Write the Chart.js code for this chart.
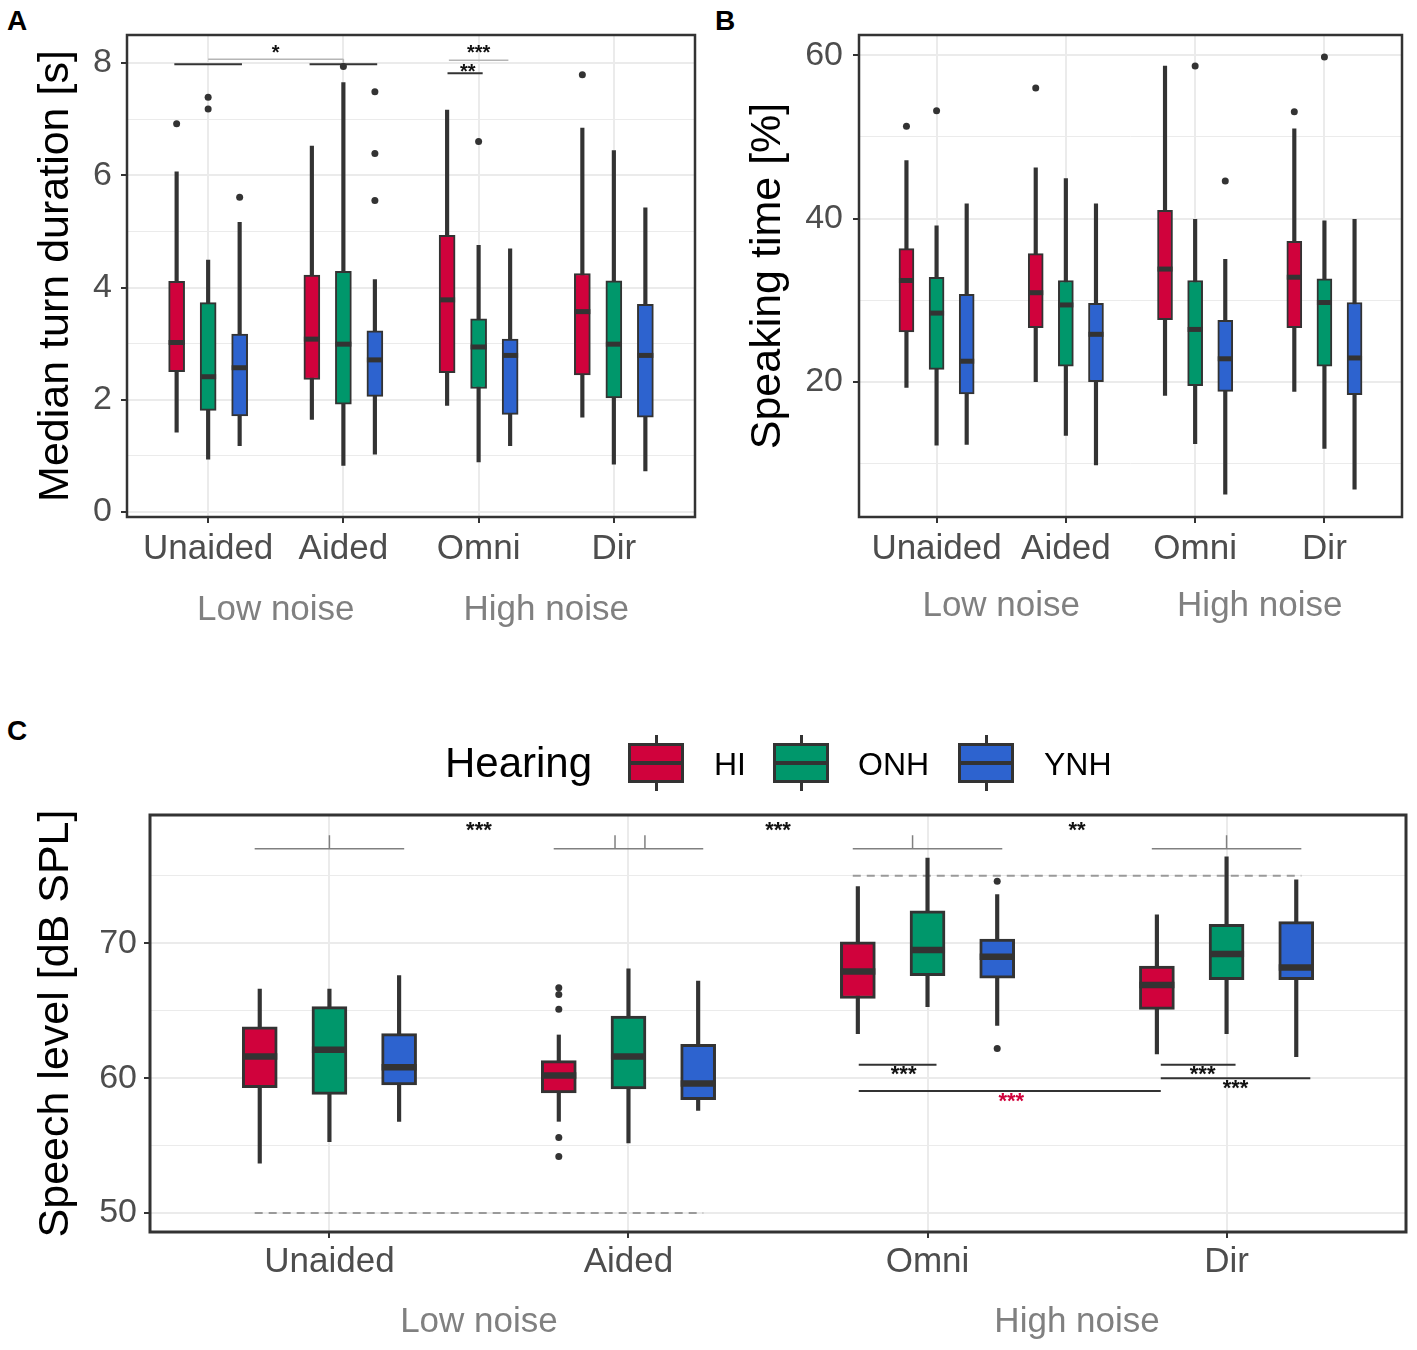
<!DOCTYPE html>
<html>
<head>
<meta charset="utf-8">
<title>Turn duration, speaking time and speech level by hearing group</title>
<script src="https://cdn.jsdelivr.net/npm/chart.js"></script>
<style>
    body {
        margin: 0;
        background: #fff;
        font-family: "Liberation Sans", Arial, sans-serif;
    }

    .figure {
        position: relative;
        width: 1417px;
        height: 1350px;
        overflow: hidden;
    }

    .figure canvas {
        position: absolute;
    }

    .tag {
        position: absolute;
        font-weight: bold;
        font-size: 28px;
        line-height: 1;
        color: #000;
    }

    .legend-text {
        position: absolute;
        line-height: 1;
        color: #000;
        white-space: nowrap;
    }

    .key {
        position: absolute;
        top: 743px;
        width: 56px;
        height: 40px;
        box-sizing: border-box;
        border: 3px solid #333;
    }

    .key i {
        position: absolute;
        background: #333;
    }

    .key .mid {
        left: 0;
        right: 0;
        top: 50%;
        height: 4px;
        margin-top: -2px;
    }

    .key .wt,
    .key .wb {
        left: 50%;
        width: 3px;
        margin-left: -1.5px;
        height: 8px;
    }

    .key .wt { top: -11px; }
    .key .wb { bottom: -11px; }
</style>
</head>
<body>
<div class="figure">
    <div class="tag" style="left:7px;top:7px">A</div>
    <div class="tag" style="left:715px;top:7px">B</div>
    <div class="tag" style="left:7px;top:717px">C</div>

    <canvas id="turn-chart" width="712" height="650" style="left:0;top:0"></canvas>
    <canvas id="speak-chart" width="705" height="650" style="left:712px;top:0"></canvas>
    <canvas id="level-chart" width="1417" height="650" style="left:0;top:700px"></canvas>

    <div class="legend-text" style="left:445px;top:742px;font-size:42px">Hearing</div>
    <div class="key" style="left:628px;background:#D0023C"><i class="mid"></i><i class="wt"></i><i class="wb"></i></div>
    <div class="legend-text" style="left:714px;top:748px;font-size:32px">HI</div>
    <div class="key" style="left:773px;background:#00976B"><i class="mid"></i><i class="wt"></i><i class="wb"></i></div>
    <div class="legend-text" style="left:858px;top:748px;font-size:32px">ONH</div>
    <div class="key" style="left:958px;background:#2D63CF"><i class="mid"></i><i class="wt"></i><i class="wb"></i></div>
    <div class="legend-text" style="left:1044px;top:748px;font-size:32px">YNH</div>
</div>

<script>
    const FONT = '"Liberation Sans", Arial, sans-serif';

    const conditions = ['Unaided', 'Aided', 'Omni', 'Dir'];
    const hearing = ['HI', 'ONH', 'YNH'];
    const hearingColors = ['#D0023C', '#00976B', '#2D63CF'];
    const noiseLabels = ['Low noise', 'High noise'];
    const noiseAt = [1.5, 3.5];

    // rows: HI, ONH, YNH; columns: Unaided, Aided, Omni, Dir
    // A - median turn duration [s]
    const turnMax = [[6.06, 6.52, 7.16, 6.84], [4.49, 7.65, 4.75, 6.44], [5.16, 4.14, 4.69, 5.42]];
    const turnQ3 = [[4.11, 4.22, 4.93, 4.25], [3.73, 4.29, 3.44, 4.12], [3.17, 3.23, 3.08, 3.70]];
    const turnMed = [[3.02, 3.08, 3.78, 3.57], [2.41, 2.99, 2.94, 2.99], [2.57, 2.71, 2.79, 2.79]];
    const turnQ1 = [[2.50, 2.36, 2.48, 2.44], [1.81, 1.92, 2.20, 2.03], [1.71, 2.06, 1.74, 1.69]];
    const turnMin = [[1.42, 1.65, 1.90, 1.69], [0.94, 0.83, 0.89, 0.85], [1.18, 1.03, 1.18, 0.73]];
    // [condition index, group index, value]
    const turnOut = [[0, 0, 6.92], [0, 1, 7.39], [0, 1, 7.18], [0, 2, 5.61], [1, 1, 7.94],
        [1, 2, 7.49], [1, 2, 6.39], [1, 2, 5.55], [2, 1, 6.60], [3, 0, 7.79]];

    // B - speaking time [%]
    const speakMax = [[47.1, 46.2, 58.7, 51.0], [39.1, 44.9, 39.9, 39.7], [41.8, 41.8, 35.0, 39.9]];
    const speakQ3 = [[36.3, 35.7, 41.0, 37.2], [32.8, 32.4, 32.4, 32.6], [30.7, 29.6, 27.5, 29.7]];
    const speakMed = [[32.4, 30.9, 33.8, 32.8], [28.4, 29.4, 26.4, 29.7], [22.5, 25.8, 22.8, 22.9]];
    const speakQ1 = [[26.1, 26.6, 27.6, 26.6], [21.5, 21.9, 19.5, 21.9], [18.5, 20.0, 18.8, 18.4]];
    const speakMin = [[19.3, 20.0, 18.3, 18.8], [12.2, 13.4, 12.4, 11.8], [12.3, 9.8, 6.2, 6.8]];
    const speakOut = [[0, 0, 51.3], [0, 1, 53.2], [1, 0, 56.0], [2, 1, 58.7], [2, 2, 44.6], [3, 0, 53.1], [3, 1, 59.8]];

    // C - speech level [dB SPL]
    const levelMax = [[66.6, 63.2, 74.2, 72.1], [66.6, 68.1, 76.3, 76.4], [67.6, 67.2, 73.6, 74.7]];
    const levelQ3 = [[63.8, 61.3, 70.1, 68.3], [65.3, 64.6, 72.4, 71.4], [63.3, 62.5, 70.3, 71.6]];
    const levelMed = [[61.6, 60.2, 67.9, 66.9], [62.1, 61.6, 69.5, 69.2], [60.8, 59.6, 69.0, 68.2]];
    const levelQ1 = [[59.3, 58.9, 65.9, 65.1], [58.8, 59.2, 67.6, 67.3], [59.5, 58.4, 67.4, 67.3]];
    const levelMin = [[53.7, 56.8, 63.3, 61.8], [55.3, 55.2, 65.3, 63.3], [56.8, 57.6, 63.9, 61.6]];
    const levelOut = [[1, 0, 66.7], [1, 0, 66.2], [1, 0, 65.1], [1, 0, 55.6], [1, 0, 54.2], [2, 2, 74.6], [2, 2, 62.2]];

    // significance marks, in axis units: [x from, x to, y] / [x, y from, y to] / [text, x, y]
    const turnBlack = [[0.75, 1.25, 7.98], [1.75, 2.25, 7.98], [2.77, 3.03, 7.82]];
    const turnGray = [[1.0, 2.0, 8.07], [2.78, 3.22, 8.05]];
    const turnTicks = [[2.0, 7.98, 8.07]];
    const turnStars = [['*', 1.5, 8.28], ['***', 3.0, 8.28], ['**', 2.92, 7.94]];

    const levelGray = [[0.75, 1.25, 77], [1.75, 2.25, 77], [2.75, 3.25, 77], [3.75, 4.25, 77]];
    const levelTicks = [[1.0, 77, 78], [1.955, 77, 78], [2.055, 77, 78], [2.95, 77, 78], [4.0, 77, 78]];
    const levelDashed = [[0.75, 2.25, 50], [2.75, 4.25, 75]];
    const levelBlack = [[2.77, 3.03, 61.0], [2.77, 3.78, 59.05], [3.78, 4.03, 61.0], [3.78, 4.28, 60.0]];
    const levelStars = [['***', 1.5, 78.8], ['***', 2.5, 78.8], ['**', 3.5, 78.8],
        ['***', 2.92, 60.7], ['***', 3.92, 60.7], ['***', 4.03, 59.7]];
    const levelRedStars = [['***', 3.28, 58.75]];

    const dodge = [-0.233, 0, 0.233];

    Chart.defaults.font.family = FONT;
    Chart.defaults.animation = false;

    function notesPlugin(n) {
        return {
            id: 'notes',
            beforeDatasetsDraw(chart) {
                const { ctx, scales: { x, y } } = chart;
                ctx.save();
                ctx.lineCap = 'butt';
                ctx.strokeStyle = '#9a9a9a';
                ctx.lineWidth = 2;
                ctx.setLineDash([8, 6]);
                (n.dashed || []).forEach(([a, b, v]) => {
                    ctx.beginPath();
                    ctx.moveTo(x.getPixelForValue(a), y.getPixelForValue(v));
                    ctx.lineTo(x.getPixelForValue(b), y.getPixelForValue(v));
                    ctx.stroke();
                });
                ctx.setLineDash([]);
                ctx.strokeStyle = n.grayColor;
                ctx.lineWidth = n.grayWidth;
                (n.gray || []).forEach(([a, b, v]) => {
                    ctx.beginPath();
                    ctx.moveTo(x.getPixelForValue(a), y.getPixelForValue(v));
                    ctx.lineTo(x.getPixelForValue(b), y.getPixelForValue(v));
                    ctx.stroke();
                });
                (n.ticks || []).forEach(([a, v1, v2]) => {
                    ctx.beginPath();
                    ctx.moveTo(x.getPixelForValue(a), y.getPixelForValue(v1));
                    ctx.lineTo(x.getPixelForValue(a), y.getPixelForValue(v2));
                    ctx.stroke();
                });
                ctx.strokeStyle = '#333';
                ctx.lineWidth = 2;
                (n.black || []).forEach(([a, b, v]) => {
                    ctx.beginPath();
                    ctx.moveTo(x.getPixelForValue(a), y.getPixelForValue(v));
                    ctx.lineTo(x.getPixelForValue(b), y.getPixelForValue(v));
                    ctx.stroke();
                });
                ctx.restore();
            },
            afterDatasetsDraw(chart) {
                const { ctx, chartArea: area, scales: { x, y } } = chart;
                ctx.save();
                ctx.strokeStyle = '#333';
                ctx.lineWidth = n.frame;
                ctx.strokeRect(area.left, area.top, area.right - area.left, area.bottom - area.top);

                const size = n.starSize;
                ctx.font = 'bold ' + size + 'px ' + FONT;
                ctx.textAlign = 'center';
                ctx.textBaseline = 'alphabetic';
                const stars = (list, color) => list.forEach(([t, a, v]) => {
                    ctx.fillStyle = color;
                    ctx.fillText(t, x.getPixelForValue(a), y.getPixelForValue(v) + size * 0.57);
                });
                stars(n.stars || [], '#111');
                stars(n.redStars || [], hearingColors[0]);

                ctx.font = '35px ' + FONT;
                ctx.fillStyle = '#808080';
                ctx.textBaseline = 'middle';
                noiseLabels.forEach((t, i) => ctx.fillText(t, x.getPixelForValue(noiseAt[i]), n.noiseY));
                ctx.restore();
            }
        };
    }

    function boxChart(id, spec) {
        const datasets = [];
        hearing.forEach((g, gi) => {
            const xs = conditions.map((c, ci) => ci + 1 + dodge[gi]);
            datasets.push({
                type: 'bar', label: g + ' whiskers', order: 3, grouped: false,
                data: xs.map((x, ci) => ({ x: x, y: [spec.min[gi][ci], spec.max[gi][ci]] })),
                backgroundColor: '#333', borderWidth: 0,
                barThickness: spec.whisker, maxBarThickness: spec.whisker,
            });
            datasets.push({
                type: 'bar', label: g, order: 2, grouped: false,
                data: xs.map((x, ci) => ({ x: x, y: [spec.q1[gi][ci], spec.q3[gi][ci]] })),
                backgroundColor: hearingColors[gi], borderColor: '#333',
                borderWidth: spec.border, borderSkipped: false,
                barThickness: spec.box, maxBarThickness: spec.box,
            });
            datasets.push({
                type: 'scatter', label: g + ' median', order: 1,
                data: xs.map((x, ci) => ({ x: x, y: spec.med[gi][ci] })),
                pointStyle: 'line', pointRadius: spec.box / 2, pointHoverRadius: spec.box / 2,
                pointBorderColor: '#333', pointBorderWidth: spec.median,
            });
        });
        datasets.push({
            type: 'scatter', label: 'outliers', order: 0,
            data: spec.out.map(([ci, gi, v]) => ({ x: ci + 1 + dodge[gi], y: v })),
            pointRadius: spec.dot, pointHoverRadius: spec.dot,
            pointBackgroundColor: '#333', pointBorderWidth: 0,
        });

        const isMajor = (ctx) => ctx.tick && spec.yLabels.includes(ctx.tick.value);

        return new Chart(document.getElementById(id), {
            type: 'bar',
            data: { datasets: datasets },
            options: {
                responsive: false,
                animation: false,
                layout: { padding: spec.padding, autoPadding: false },
                plugins: {
                    legend: { display: false },
                    tooltip: { enabled: false },
                },
                scales: {
                    x: {
                        type: 'linear',
                        min: 0.4,
                        max: 4.6,
                        offset: false,
                        afterBuildTicks: (s) => { s.ticks = conditions.map((c, i) => ({ value: i + 1 })); },
                        afterFit: (s) => { s.height = spec.xHeight; },
                        ticks: {
                            callback: (v) => conditions[v - 1],
                            autoSkip: false,
                            maxRotation: 0,
                            minRotation: 0,
                            color: '#4d4d4d',
                            font: { size: 35 },
                            padding: spec.xPad,
                        },
                        grid: {
                            offset: false,
                            color: '#ebebeb',
                            lineWidth: 2,
                            tickColor: '#333',
                            tickLength: 6,
                            tickWidth: 2,
                        },
                        border: { display: false },
                    },
                    y: {
                        min: spec.yMin,
                        max: spec.yMax,
                        afterBuildTicks: (s) => { s.ticks = spec.yTicks.map((v) => ({ value: v })); },
                        afterFit: (s) => { s.width = spec.yWidth; },
                        ticks: {
                            callback: (v) => (spec.yLabels.includes(v) ? v : ''),
                            color: '#4d4d4d',
                            font: { size: 34 },
                            padding: spec.yPad,
                        },
                        grid: {
                            color: '#ebebeb',
                            lineWidth: (ctx) => (isMajor(ctx) ? 2 : 1),
                            tickColor: (ctx) => (isMajor(ctx) ? '#333' : 'rgba(0,0,0,0)'),
                            tickLength: 6,
                            tickWidth: 2,
                        },
                        border: { display: false },
                        title: {
                            display: true,
                            text: spec.title,
                            color: '#000',
                            font: { size: 43 },
                            padding: { top: 30, bottom: 0 },
                        },
                    },
                },
            },
            plugins: [notesPlugin(spec.notes)],
        });
    }

    boxChart('turn-chart', {
        min: turnMin, q1: turnQ1, med: turnMed, q3: turnQ3, max: turnMax, out: turnOut,
        title: 'Median turn duration [s]',
        yMin: -0.09, yMax: 8.5,
        yTicks: [0, 1, 2, 3, 4, 5, 6, 7, 8], yLabels: [0, 2, 4, 6, 8],
        padding: { left: 0, top: 35, right: 17, bottom: 0 },
        yWidth: 127, xHeight: 133, xPad: 5, yPad: 9,
        box: 16, whisker: 3.5, border: 2, median: 5, dot: 3.5,
        notes: {
            black: turnBlack, gray: turnGray, ticks: turnTicks, stars: turnStars,
            grayColor: '#b5b5b5', grayWidth: 1.5, starSize: 20, frame: 2.5, noiseY: 610,
        },
    });

    boxChart('speak-chart', {
        min: speakMin, q1: speakQ1, med: speakMed, q3: speakQ3, max: speakMax, out: speakOut,
        title: 'Speaking time [%]',
        yMin: 3.4, yMax: 62.5,
        yTicks: [10, 20, 30, 40, 50, 60], yLabels: [20, 40, 60],
        padding: { left: 0, top: 35, right: 15, bottom: 0 },
        yWidth: 147, xHeight: 133, xPad: 5, yPad: 10,
        box: 15, whisker: 3.5, border: 2, median: 5, dot: 3.5,
        notes: { grayColor: '#b5b5b5', grayWidth: 1.5, starSize: 20, frame: 2.5, noiseY: 606 },
    });

    boxChart('level-chart', {
        min: levelMin, q1: levelQ1, med: levelMed, q3: levelQ3, max: levelMax, out: levelOut,
        title: 'Speech level [dB SPL]',
        yMin: 48.6, yMax: 79.5,
        yTicks: [50, 55, 60, 65, 70, 75], yLabels: [50, 60, 70],
        padding: { left: 0, top: 115, right: 11, bottom: 0 },
        yWidth: 150, xHeight: 118, xPad: 3, yPad: 7,
        box: 35, whisker: 3.5, border: 3, median: 6.5, dot: 3.5,
        notes: {
            black: levelBlack, gray: levelGray, ticks: levelTicks, dashed: levelDashed,
            stars: levelStars, redStars: levelRedStars,
            grayColor: '#808080', grayWidth: 1.5, starSize: 22, frame: 3, noiseY: 622,
        },
    });
</script>
</body>
</html>
